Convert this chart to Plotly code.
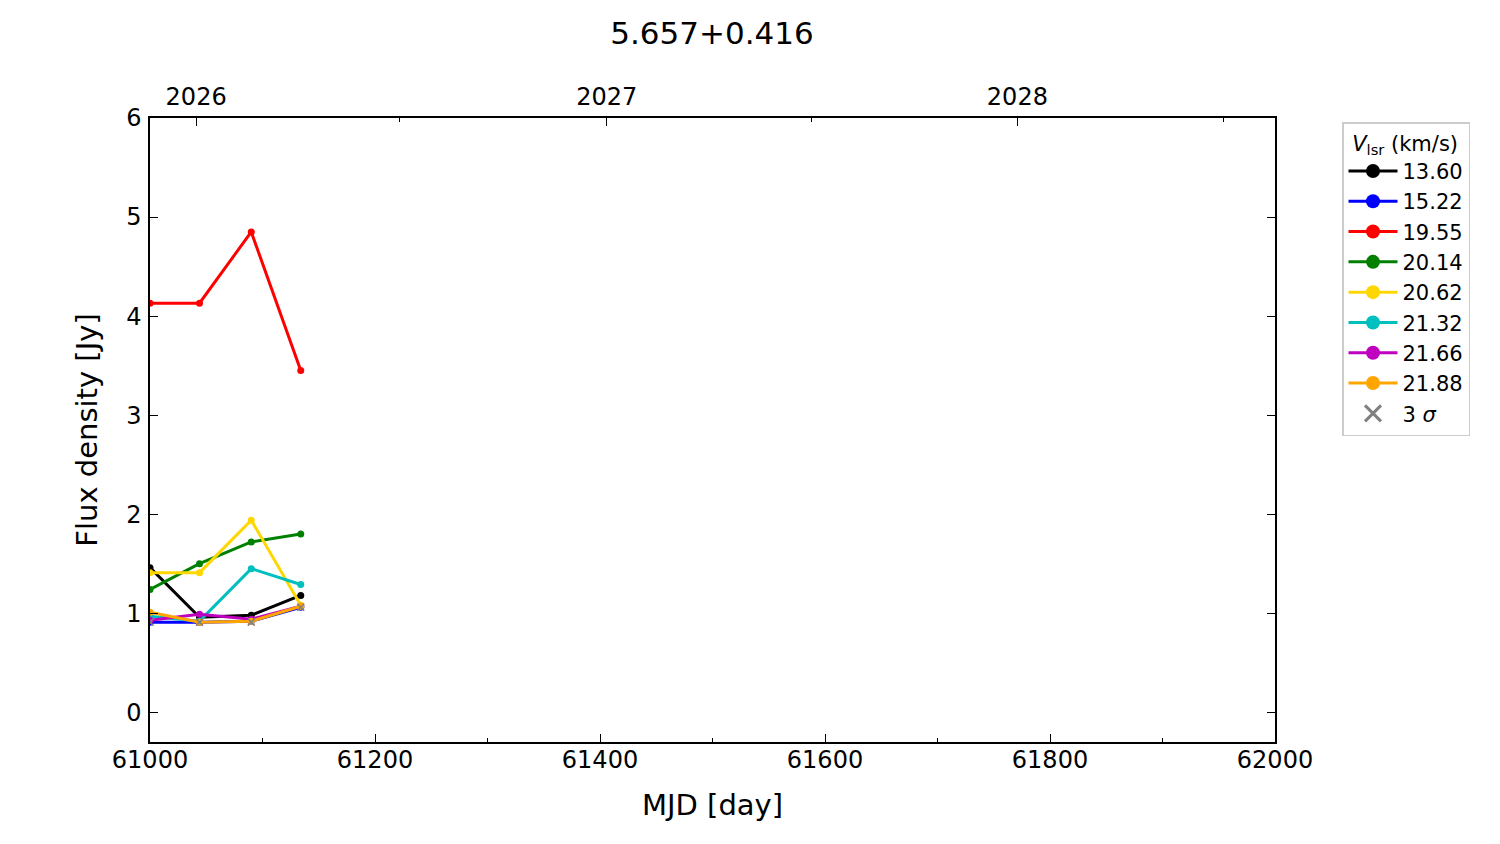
import plotly.graph_objects as go

mjd = [61000, 61044, 61090, 61134]

velocities = ["13.60", "15.22", "19.55", "20.14", "20.62", "21.32", "21.66", "21.88"]
colors = ["#000000", "#0000ff", "#ff0000", "#008000", "#ffd700", "#00bfbf", "#bf00bf", "#ffa500"]

flux_1360 = [1.46, 0.96, 0.98, 1.18]
flux_1522 = [0.91, 0.91, 0.92, 1.06]
flux_1955 = [4.13, 4.13, 4.85, 3.45]
flux_2014 = [1.24, 1.50, 1.72, 1.80]
flux_2062 = [1.41, 1.41, 1.94, 1.08]
flux_2132 = [0.97, 0.92, 1.45, 1.29]
flux_2166 = [0.93, 0.99, 0.94, 1.07]
flux_2188 = [1.01, 0.91, 0.92, 1.07]
all_flux = [flux_1360, flux_1522, flux_1955, flux_2014, flux_2062, flux_2132, flux_2166, flux_2188]

sigma3 = [0.91, 0.91, 0.91, 1.06]

x_ticks = [61000, 61200, 61400, 61600, 61800, 62000]
x_tick_labels = ["61000", "61200", "61400", "61600", "61800", "62000"]
x_minor = [61100, 61300, 61500, 61700, 61900]
y_ticks = [0, 1, 2, 3, 4, 5, 6]

year_mjd = [61041, 61406, 61771]
year_labels = ["2026", "2027", "2028"]
midyear_mjd = [61222, 61588, 61954]

FONT = "DejaVu Sans"

# page offset compensation (browser body margin of 8px)
OFF = 8
L, T = 150 - OFF, 118 - OFF
PW, PH = 1125, 624
W, H = 1484, 828

fig = go.Figure()
for v, c, f in zip(velocities, colors, all_flux):
    fig.add_trace(go.Scatter(
        x=mjd, y=f, mode="lines+markers", name=v, showlegend=False,
        line=dict(color=c, width=3),
        marker=dict(color=c, size=7),
    ))
fig.add_trace(go.Scatter(
    x=mjd, y=sigma3, mode="markers", name="3 σ", showlegend=False,
    marker=dict(symbol="x-thin", color="gray", size=7, line=dict(color="gray", width=1.5)),
))
# legend entries
for v, c in zip(velocities, colors):
    fig.add_trace(go.Scatter(
        x=[None], y=[None], mode="lines+markers", name=v,
        line=dict(color=c, width=3), marker=dict(color=c, size=14),
    ))
fig.add_trace(go.Scatter(
    x=[None], y=[None], mode="markers", name="3 <i>σ</i>",
    marker=dict(symbol="x-thin", color="gray", size=16, line=dict(color="gray", width=3)),
))
fig.add_trace(go.Scatter(x=[None], y=[None], xaxis="x2", showlegend=False, hoverinfo="skip"))

fig.update_layout(
    width=W, height=H,
    paper_bgcolor="white", plot_bgcolor="white",
    margin=dict(l=L, r=W - L - PW, t=T, b=H - T - PH, pad=0),
    font=dict(family=FONT, color="black", size=24),
    title=dict(text="5.657+0.416", x=(712 - OFF) / W, xanchor="center", y=1 - (33 - OFF) / H, yanchor="middle",
               font=dict(size=31, family=FONT)),
    xaxis=dict(
        range=[61000, 62000], tickmode="array", tickvals=x_ticks, ticktext=x_tick_labels,
        ticks="inside", ticklen=8, tickwidth=1.3, tickcolor="black",
        showline=True, linecolor="black", linewidth=1.5, mirror=True,
        showgrid=False, zeroline=False,
        title=dict(text="MJD [day]", font=dict(size=29), standoff=22),
        tickfont=dict(size=24), ticklabelstandoff=-5,
        minor=dict(tickvals=x_minor, ticks="inside", ticklen=4, tickcolor="black"),
    ),
    xaxis2=dict(
        overlaying="x", side="top", anchor="y", range=[61000, 62000],
        tickmode="array", tickvals=year_mjd, ticktext=year_labels,
        ticks="inside", ticklen=8, tickwidth=1.3, tickcolor="black",
        showgrid=False, zeroline=False, showline=False,
        tickfont=dict(size=24), ticklabelstandoff=7,
        minor=dict(tickvals=midyear_mjd, ticks="inside", ticklen=4, tickcolor="black"),
    ),
    yaxis=dict(
        range=[-0.3, 6], tickmode="array", tickvals=y_ticks,
        ticks="inside", ticklen=8, tickwidth=1.3, tickcolor="black",
        showline=True, linecolor="black", linewidth=1.5, mirror="ticks",
        showgrid=False, zeroline=False,
        title=dict(text="Flux density [Jy]", font=dict(size=29), standoff=20),
        tickfont=dict(size=24), ticklabelstandoff=2,
    ),
    legend=dict(
        x=(1342 - 150) / PW, y=(742 - 122) / PH, xanchor="left", yanchor="top",
        bordercolor="#cccccc", borderwidth=1.5, bgcolor="white",
        font=dict(size=21, family=FONT),
        title=dict(text=" <i>V</i><sub>lsr</sub> (km/s)", font=dict(size=21), side="top"),
        tracegroupgap=0, itemwidth=49,
    ),
    showlegend=True,
)

fig.write_html("out.html")
